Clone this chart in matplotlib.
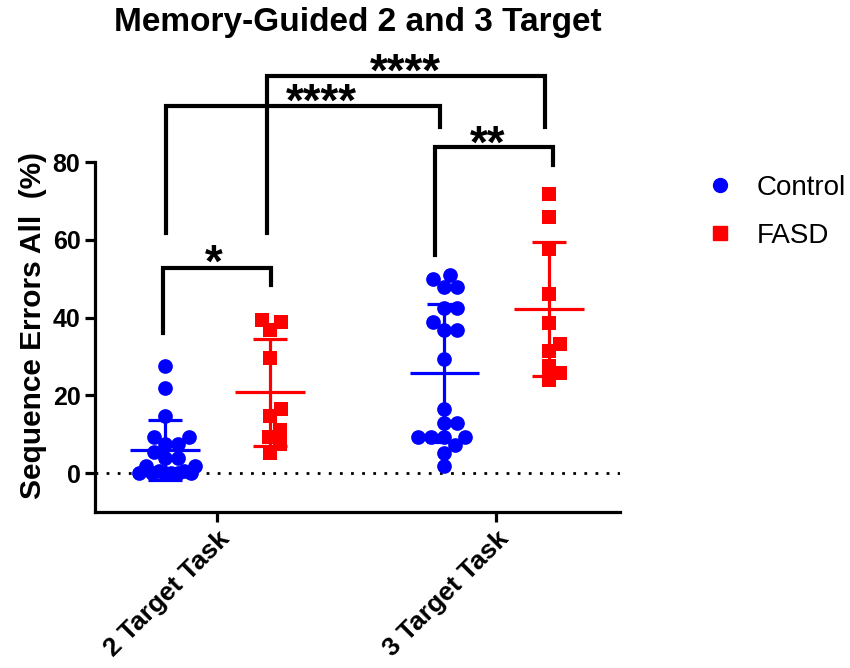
import matplotlib.pyplot as plt
from matplotlib.lines import Line2D
import numpy as np

plt.rcParams['font.family'] = ['Liberation Sans', 'DejaVu Sans']

# ---- data ----
tasks = ['2 Target Task', '3 Target Task']
groups = ['Control', 'FASD']
colors = {'Control': '#0000ff', 'FASD': '#ff0000'}
markers = {'Control': 'o', 'FASD': 's'}

control_2t = [27.5, 22.0, 14.7, 9.2, 9.2, 7.5, 7.5, 5.5, 3.8, 3.8,
              1.8, 1.8, 0.5, 0.5, 0.0, 0.0, 0.0, 0.0, 0.0, 0.0]
fasd_2t = [39.4, 38.8, 36.8, 29.5, 16.5, 14.7, 11.1, 9.2, 7.4, 5.3]
control_3t = [50.9, 49.9, 47.9, 47.9, 42.4, 42.4, 38.8, 36.8, 36.8, 29.3,
              16.6, 12.8, 12.8, 9.2, 9.2, 9.3, 9.3, 7.2, 5.3, 1.8]
fasd_3t = [71.9, 65.8, 57.6, 46.1, 38.7, 33.2, 31.5, 27.6, 25.8, 23.9]

# mean and SD as drawn
mean_control = [5.9, 25.8]
sd_control = [7.7, 17.8]
mean_fasd = [20.8, 42.2]
sd_fasd = [13.7, 17.3]

# significance brackets: (x left, x right, top, left foot, right foot, label, label x, label baseline)
brackets = [
    (-0.194, 0.194, 52.7, 36.0, 48.4, '*', -0.01, 50.6),
    (0.781, 1.204, 83.9, 56.0, 79.2, '**', 0.97, 81.2),
    (-0.184, 0.80, 94.4, 61.7, 89.1, '****', 0.375, 92.0),
    (0.178, 1.176, 102.1, 61.7, 89.1, '****', 0.675, 99.6),
]

series = {'Control': [control_2t, control_3t], 'FASD': [fasd_2t, fasd_3t]}
stats = {'Control': (mean_control, sd_control), 'FASD': (mean_fasd, sd_fasd)}
offset = {'Control': -0.185, 'FASD': 0.19}

fig = plt.figure(figsize=(8.5, 6.68), dpi=100)
ax = fig.add_axes([95 / 850, 156 / 668, 525 / 850, 350 / 668])
ax.set_xlim(-0.437, 1.444)
ax.set_ylim(-10, 80)


def swarm(vals, xc, size_px, maxw=30):
    # greedy beeswarm in pixel space, overlapping once the row gets too wide
    tr = ax.transData
    x0 = tr.transform((xc, 0))[0]
    cands = sorted(range(-maxw, maxw + 1), key=lambda c: (abs(c), -c))
    placed = []
    xs = np.zeros(len(vals))
    for i in np.argsort(vals):
        py = tr.transform((xc, vals[i]))[1]
        best, bestd = 0, -1.0
        for c in cands:
            d = min([np.hypot(c - qx, py - qy) for qx, qy in placed] or [1e9])
            if d >= 0.85 * size_px:
                best = c
                break
            if d > bestd:
                best, bestd = c, d
        placed.append((best, py))
        xs[i] = tr.inverted().transform((x0 + best, py))[0]
    return xs


for g in groups:
    for t in range(len(tasks)):
        xc = t + offset[g]
        vals = np.array(series[g][t])
        xs = swarm(vals, xc, 15)
        ax.scatter(xs, vals, s=112 if g == 'Control' else 100, marker=markers[g],
                   color=colors[g], linewidths=0, zorder=3)
        m, sd = stats[g][0][t], stats[g][1][t]
        ax.errorbar(xc, m, yerr=sd, color=colors[g], capsize=12, elinewidth=2.3,
                    capthick=2.3, zorder=4)
        ax.hlines(m, xc - 0.125, xc + 0.125, color=colors[g], lw=2.3, zorder=4)

ax.axhline(0, color='black', ls=(0, (1, 3)), lw=2, zorder=1)

for x1, x2, top, f1, f2, lab, tx, ty in brackets:
    ax.plot([x1, x1, x2, x2], [f1, top, top, f2], color='black', lw=3,
            solid_joinstyle='miter', clip_on=False)
    ax.text(tx, ty, lab, ha='center', va='baseline', fontsize=33, fontweight='bold')

for sp in ['top', 'right']:
    ax.spines[sp].set_visible(False)
for sp in ['left', 'bottom']:
    ax.spines[sp].set_linewidth(2.3)
ax.tick_params(width=2.3, length=7)
ax.set_yticks([0, 20, 40, 60, 80])
ax.set_xticks(range(len(tasks)))
ax.set_xticklabels(tasks, rotation=45, ha='right', rotation_mode='anchor',
                   fontsize=19, fontweight='bold')
for lbl in ax.get_yticklabels():
    lbl.set_fontsize(18)
    lbl.set_fontweight('bold')
ax.set_ylabel('Sequence Errors All  (%)', fontsize=21.5, fontweight='bold')
ax.yaxis.set_label_coords(-48 / 525, 0.534)

fig.text(358 / 850, 1 - 22 / 668, 'Memory-Guided 2 and 3 Target', ha='center',
         va='center', fontsize=24, fontweight='bold')

handles = [Line2D([], [], marker=markers[g], color=colors[g], ls='none', markersize=10)
           for g in groups]
fig.legend(handles, groups, loc='upper left', bbox_to_anchor=(681 / 850, 1 - 150 / 668),
           frameon=False, fontsize=20, handlelength=1.0, handletextpad=0.83,
           labelspacing=0.78)

fig.savefig('out.png', dpi=100)
